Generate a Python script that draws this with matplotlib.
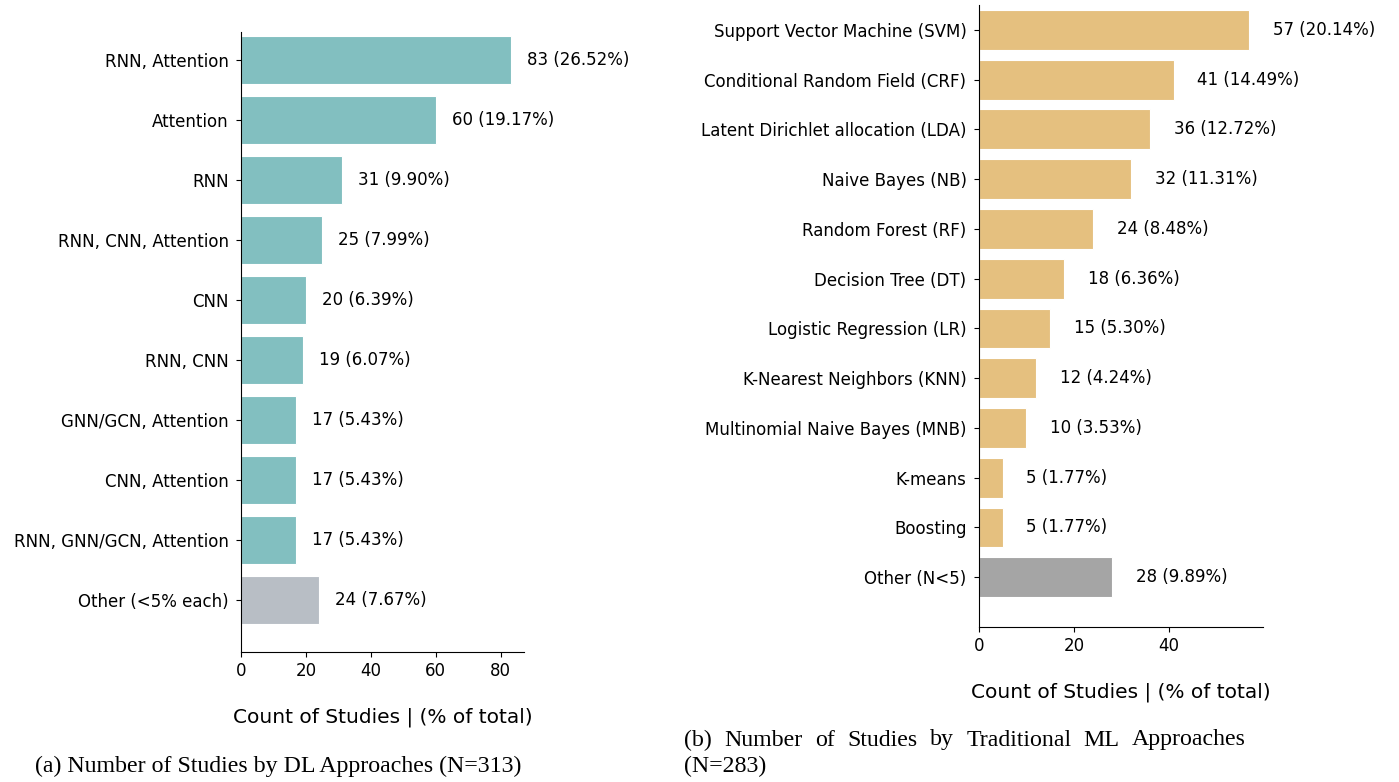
import matplotlib
matplotlib.use("Agg")
import matplotlib.pyplot as plt

dl_labels = ["RNN, Attention", "Attention", "RNN", "RNN, CNN, Attention", "CNN",
             "RNN, CNN", "GNN/GCN, Attention", "CNN, Attention",
             "RNN, GNN/GCN, Attention", "Other (<5% each)"]
dl_counts = [83, 60, 31, 25, 20, 19, 17, 17, 17, 24]
dl_pcts = [26.52, 19.17, 9.90, 7.99, 6.39, 6.07, 5.43, 5.43, 5.43, 7.67]

ml_labels = ["Support Vector Machine (SVM)", "Conditional Random Field (CRF)",
             "Latent Dirichlet allocation (LDA)", "Naive Bayes (NB)",
             "Random Forest (RF)", "Decision Tree (DT)", "Logistic Regression (LR)",
             "K-Nearest Neighbors (KNN)", "Multinomial Naive Bayes (MNB)",
             "K-means", "Boosting", "Other (N<5)"]
ml_counts = [57, 41, 36, 32, 24, 18, 15, 12, 10, 5, 5, 28]
ml_pcts = [20.14, 14.49, 12.72, 11.31, 8.48, 6.36, 5.30, 4.24, 3.53, 1.77, 1.77, 9.89]

dl_ticks = [0, 20, 40, 60, 80]
ml_ticks = [0, 20, 40]

W, H = 1399, 782
fig = plt.figure(figsize=(W / 100, H / 100), dpi=100)

def px_axes(l, r, t, b):
    return fig.add_axes([l / W, 1 - b / H, (r - l) / W, (b - t) / H])

ax1 = px_axes(241, 524, 32, 652)
ax2 = px_axes(979, 1263, 5, 627)

FS = 12

def draw(ax, labels, counts, pcts, main_color, other_color, ticks, ylim):
    ys = list(range(len(labels)))
    colors = [main_color] * (len(labels) - 1) + [other_color]
    ax.barh(ys, counts, height=0.8, color=colors, edgecolor="white", linewidth=0.8)
    for y, c, p in zip(ys, counts, pcts):
        ax.text(c + 5, y, f"{c} ({p:.2f}%)", va="center", ha="left", fontsize=FS)
    ax.set_yticks(ys)
    ax.set_yticklabels(labels, fontsize=FS)
    ax.tick_params(axis="y", pad=5.5)
    ax.set_xticks(ticks)
    ax.tick_params(axis="x", labelsize=FS)
    ax.set_xlim(0, max(counts) * 1.05)
    ax.set_ylim(*ylim)
    ax.spines["top"].set_visible(False)
    ax.spines["right"].set_visible(False)
    ax.set_xlabel("Count of Studies | (% of total)", fontsize=14.5, labelpad=20)

draw(ax1, dl_labels, dl_counts, dl_pcts, "#82BFC0", "#B8BEC5", dl_ticks, (9.87, -0.47))
draw(ax2, ml_labels, ml_counts, ml_pcts, "#E5C07F", "#A5A5A5", ml_ticks, (12.0, -0.5))

serif = "Liberation Serif"
cap_fs = 17.2
fig.text(35 / W, 1 - 766 / H, "(a) Number of Studies by DL Approaches (N=313)",
         family=serif, fontsize=cap_fs, ha="left", va="center")

# justified first line of caption (b)
words = ["(b)", "Number", "of", "Studies", "by", "Traditional", "ML", "Approaches"]
x0, x1 = 684, 1246
fig.canvas.draw()
r = fig.canvas.get_renderer()
arts = [fig.text(0, 1 - 740 / H, w, family=serif, fontsize=cap_fs, ha="left", va="center") for w in words]
widths = [a.get_window_extent(r).width for a in arts]
gap = (x1 - x0 - sum(widths)) / (len(words) - 1)
x = x0
for a, w in zip(arts, widths):
    a.set_x(x / W)
    x += w + gap
fig.text(684 / W, 1 - 766 / H, "(N=283)", family=serif, fontsize=cap_fs, ha="left", va="center")

fig.savefig("out.png", dpi=100)
